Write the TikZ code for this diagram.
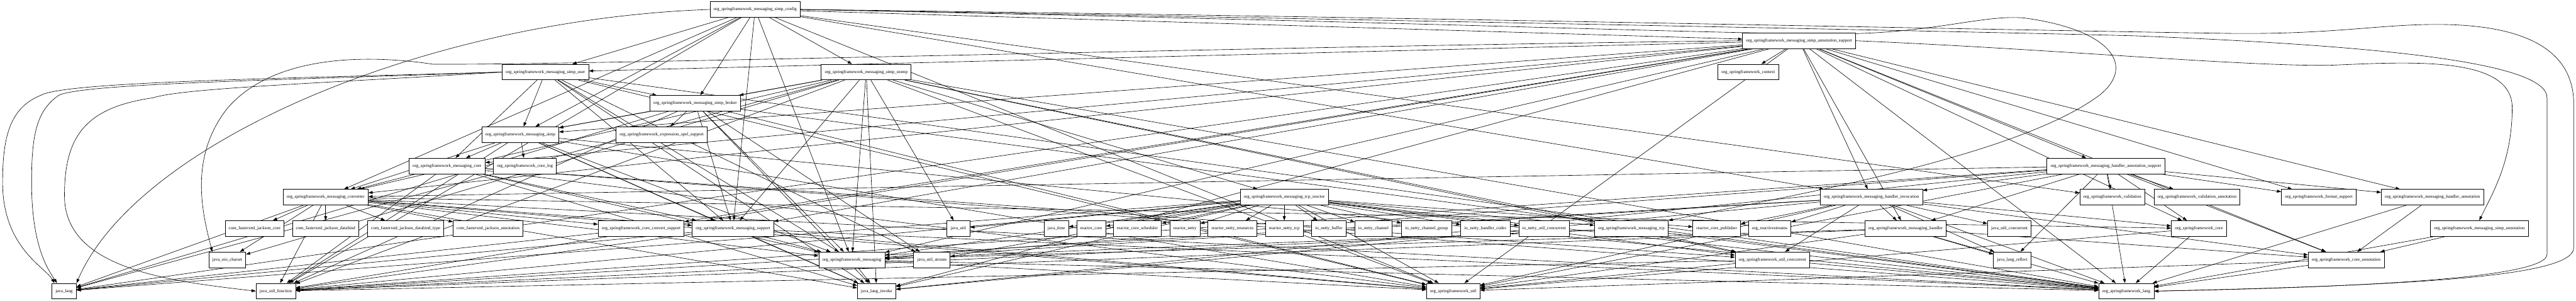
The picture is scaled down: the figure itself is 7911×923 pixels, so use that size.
\documentclass[tikz,border=0pt]{standalone}
\usepackage{fontspec}
\setmainfont{Liberation Serif}
\usetikzlibrary{arrows.meta}
\pgfdeclarelayer{edges}
\pgfsetlayers{edges,main}
\begin{document}
\begin{tikzpicture}[x=1pt,y=-1pt,
  pkg/.style={draw, line width=1.4pt, fill=white, minimum height=48pt, minimum width=72pt,
              inner xsep=11pt, inner ysep=0pt, font=\fontsize{13.5}{16}\selectfont},
  dep/.style={-{Triangle[length=13pt,width=9pt]}, line width=1.2pt}]
\useasboundingbox (0,0) rectangle (7911,923);

% rank 0-5
\node[pkg] (cfg) at (2319,29) {org\_springframework\_messaging\_simp\_config};
\node[pkg] (sas) at (5525,125) {org\_springframework\_messaging\_simp\_annotation\_support};
\node[pkg] (usr) at (1675,221) {org\_springframework\_messaging\_simp\_user};
\node[pkg] (stomp) at (2660,221) {org\_springframework\_messaging\_simp\_stomp};
\node[pkg] (ctx) at (5369,221) {org\_springframework\_context};
\node[pkg] (broker) at (2135,317) {org\_springframework\_messaging\_simp\_broker};
\node[pkg] (simp) at (1598,413) {org\_springframework\_messaging\_simp};
\node[pkg] (spel) at (2032,413) {org\_springframework\_expression\_spel\_support};
\node[pkg] (mcore) at (1373,509) {org\_springframework\_messaging\_core};
\node[pkg] (clog) at (1612,509) {org\_springframework\_core\_log};
\node[pkg] (has) at (6467,509) {org\_springframework\_messaging\_handler\_annotation\_support};
% rank 6
\node[pkg] (conv) at (1000,605) {org\_springframework\_messaging\_converter};
\node[pkg] (tcpr) at (3944,605) {org\_springframework\_messaging\_tcp\_reactor};
\node[pkg] (hinv) at (5747,605) {org\_springframework\_messaging\_handler\_invocation};
\node[pkg] (valid) at (6487,605) {org\_springframework\_validation};
\node[pkg] (valann) at (6747,605) {org\_springframework\_validation\_annotation};
\node[pkg] (fmt) at (7121,605) {org\_springframework\_format\_support};
\node[pkg] (hann) at (7470,605) {org\_springframework\_messaging\_handler\_annotation};
% rank 7
\node[pkg] (jcore) at (782,701) {com\_fasterxml\_jackson\_core};
\node[pkg] (jdb) at (1000,701) {com\_fasterxml\_jackson\_databind};
\node[pkg] (jdbt) at (1246,701) {com\_fasterxml\_jackson\_databind\_type};
\node[pkg] (jann) at (1499,701) {com\_fasterxml\_jackson\_annotation};
\node[pkg] (ccs) at (1969,701) {org\_springframework\_core\_convert\_support};
\node[pkg] (msup) at (2251,701) {org\_springframework\_messaging\_support};
\node[pkg] (jutil) at (2943,701) {java\_util};
\node[pkg] (jtime) at (3244,701) {java\_time};
\node[pkg] (rcore) at (3351,701) {reactor\_core};
\node[pkg] (rsched) at (3493,701) {reactor\_core\_scheduler};
\node[pkg] (rnetty) at (3639,701) {reactor\_netty};
\node[pkg] (rnres) at (3785,701) {reactor\_netty\_resources};
\node[pkg] (rntcp) at (3944,701) {reactor\_netty\_tcp};
\node[pkg] (nbuf) at (4081,701) {io\_netty\_buffer};
\node[pkg] (nchan) at (4218,701) {io\_netty\_channel};
\node[pkg] (nchg) at (4381,701) {io\_netty\_channel\_group};
\node[pkg] (ncodec) at (4562,701) {io\_netty\_handler\_codec};
\node[pkg] (nconc) at (4742,701) {io\_netty\_util\_concurrent};
\node[pkg] (tcp) at (5010,701) {org\_springframework\_messaging\_tcp};
\node[pkg] (rpub) at (5272,701) {reactor\_core\_publisher};
\node[pkg] (rstreams) at (5435,701) {org\_reactivestreams};
\node[pkg] (handler) at (5852,701) {org\_springframework\_messaging\_handler};
\node[pkg] (juc) at (6171,701) {java\_util\_concurrent};
\node[pkg] (score) at (6753,701) {org\_springframework\_core};
\node[pkg] (simpann) at (7614,701) {org\_springframework\_messaging\_simp\_annotation};
% rank 8
\node[pkg] (charset) at (698,797) {java\_nio\_charset};
\node[pkg] (msg) at (2616,797) {org\_springframework\_messaging};
\node[pkg] (jstream) at (2862,797) {java\_util\_stream};
\node[pkg] (uconc) at (5443,797) {org\_springframework\_util\_concurrent};
\node[pkg] (reflect) at (6180,797) {java\_lang\_reflect};
\node[pkg] (cann) at (7205,797) {org\_springframework\_core\_annotation};
% rank 9
\node[pkg] (jlang) at (197,893) {java\_lang};
\node[pkg] (jfunc) at (847,893) {java\_util\_function};
\node[pkg] (jinvoke) at (2692,893) {java\_lang\_invoke};
\node[pkg] (sutil) at (4463,893) {org\_springframework\_util};
\node[pkg] (slang) at (6530,893) {org\_springframework\_lang};

\begin{pgfonlayer}{edges}
\foreach \t in {usr,broker,stomp,sas,simp,msup,msg,conv,hinv,valid,sutil,jfunc}
  \draw[dep] (cfg) -- (\t);
\foreach \t in {usr,ctx,simp,mcore,conv,ccs,msg,msup,handler,hinv,has,hann,fmt,cann,score,sutil,slang,jlang,jfunc,jinvoke}
  \draw[dep] (sas) -- (\t);
\foreach \t in {broker,simp,mcore,msg,msup,sutil,slang,jstream,jinvoke}
  \draw[dep] (usr) -- (\t);
\foreach \t in {broker,simp,msg,msup,conv,tcp,tcpr,charset,jutil,uconc,sutil,slang,jlang,jfunc,jinvoke}
  \draw[dep] (stomp) -- (\t);
\foreach \t in {spel,simp,msg,msup,sutil,slang,jlang,jfunc,jstream,jinvoke}
  \draw[dep] (broker) -- (\t);
\foreach \t in {mcore,clog,msg,msup,conv,sutil,slang,jfunc,jinvoke}
  \draw[dep] (simp) -- (\t);
\foreach \t in {conv,msg,msup,uconc,sutil,slang,jfunc,jinvoke}
  \draw[dep] (mcore) -- (\t);
\foreach \t in {jcore,jdb,jdbt,jann,charset,ccs,msup,msg,score,sutil,slang,jlang,jfunc,jinvoke}
  \draw[dep] (conv) -- (\t);
\foreach \t in {handler,hann,hinv,valid,valann,fmt,score,cann,reflect,msg,conv,sutil,slang,jfunc,jinvoke}
  \draw[dep] (has) -- (\t);
\foreach \t in {rpub,rstreams,handler,juc,uconc,reflect,score,cann,msg,sutil,slang,jfunc,jinvoke}
  \draw[dep] (hinv) -- (\t);
\foreach \t in {msg,reflect,cann,sutil,slang,jfunc}
  \draw[dep] (handler) -- (\t);
\foreach \t in {rntcp,nbuf,nchan,nchg,ncodec,nconc,tcp,rpub,rnres,rnetty,rsched,rcore,jtime,jutil,msg,jstream,uconc,sutil,slang,jfunc,jinvoke,jlang}
  \draw[dep] (tcpr) -- (\t);
\foreach \t in {uconc,msg,slang,jfunc}
  \draw[dep] (tcp) -- (\t);
\foreach \t in {msg,sutil,slang,jlang,jfunc,jinvoke}
  \draw[dep] (msup) -- (\t);
\foreach \t in {jinvoke,sutil,slang}
  \draw[dep] (msg) -- (\t);
\foreach \t in {cann,slang}
  \draw[dep] (hann) -- (\t);
\foreach \t in {cann,slang}
  \draw[dep] (simpann) -- (\t);
\foreach \t in {sutil,slang,jfunc}
  \draw[dep] (uconc) -- (\t);
\foreach \t in {slang,sutil}
  \draw[dep] (score) -- (\t);
\foreach \t in {slang,sutil}
  \draw[dep] (cann) -- (\t);
\draw[dep] (ccs) -- (jlang);

% routed connectors
\draw[dep] (cfg.east) .. controls (4200,50) and (6300,95) .. (6818,102)
  .. controls (7150,108) and (7300,75) .. (7482,75)
  .. controls (7750,75) and (7904,150) .. (7904,320) -- (7904,760)
  .. controls (7904,850) and (7400,875) .. (slang.east);
\draw[dep] (cfg.east) .. controls (4200,60) and (6200,100) .. (6560,110)
  .. controls (7300,140) and (7822,190) .. (7822,300) -- (7822,780)
  .. controls (7822,850) and (7300,880) .. (slang.east);
\draw[dep] (sas.east) .. controls (6300,150) and (6900,205) .. (7160,200)
  .. controls (7400,190) and (7715,170) .. (7715,330)
  .. controls (7715,500) and (7650,600) .. (simpann.north);
\draw[dep] (cfg.east) .. controls (4500,70) and (5400,110) .. (5700,103)
  .. controls (5950,96) and (6100,45) .. (6215,55)
  .. controls (6480,90) and (6560,200) .. (6450,290)
  .. controls (6200,480) and (5500,600) .. (tcp.north east);
\draw[dep] (cfg.west) .. controls (1300,60) and (420,440) .. (jlang.north east);
\draw[dep] (usr.west) .. controls (900,240) and (200,250) .. (126,292)
  .. controls (30,330) and (8,420) .. (8,560)
  .. controls (8,760) and (140,820) .. ([xshift=8pt]jlang.north west);
\draw[dep] (usr.west) .. controls (900,245) and (260,255) .. (181,292)
  .. controls (110,340) and (97,420) .. (97,560)
  .. controls (97,760) and (150,830) .. ([xshift=16pt]jlang.north west);
\draw[dep] (usr.west) .. controls (1000,255) and (560,270) .. (470,300)
  .. controls (260,330) and (198,420) .. (198,600)
  .. controls (198,820) and (500,860) .. (jfunc.west);
\draw[dep] (sas.west) .. controls (4000,140) and (1800,200) .. (1330,197)
  .. controls (1150,170) and (850,160) .. (700,330)
  .. controls (580,480) and (620,650) .. ([xshift=-46pt]charset.north);
\end{pgfonlayer}
\end{tikzpicture}
\end{document}
